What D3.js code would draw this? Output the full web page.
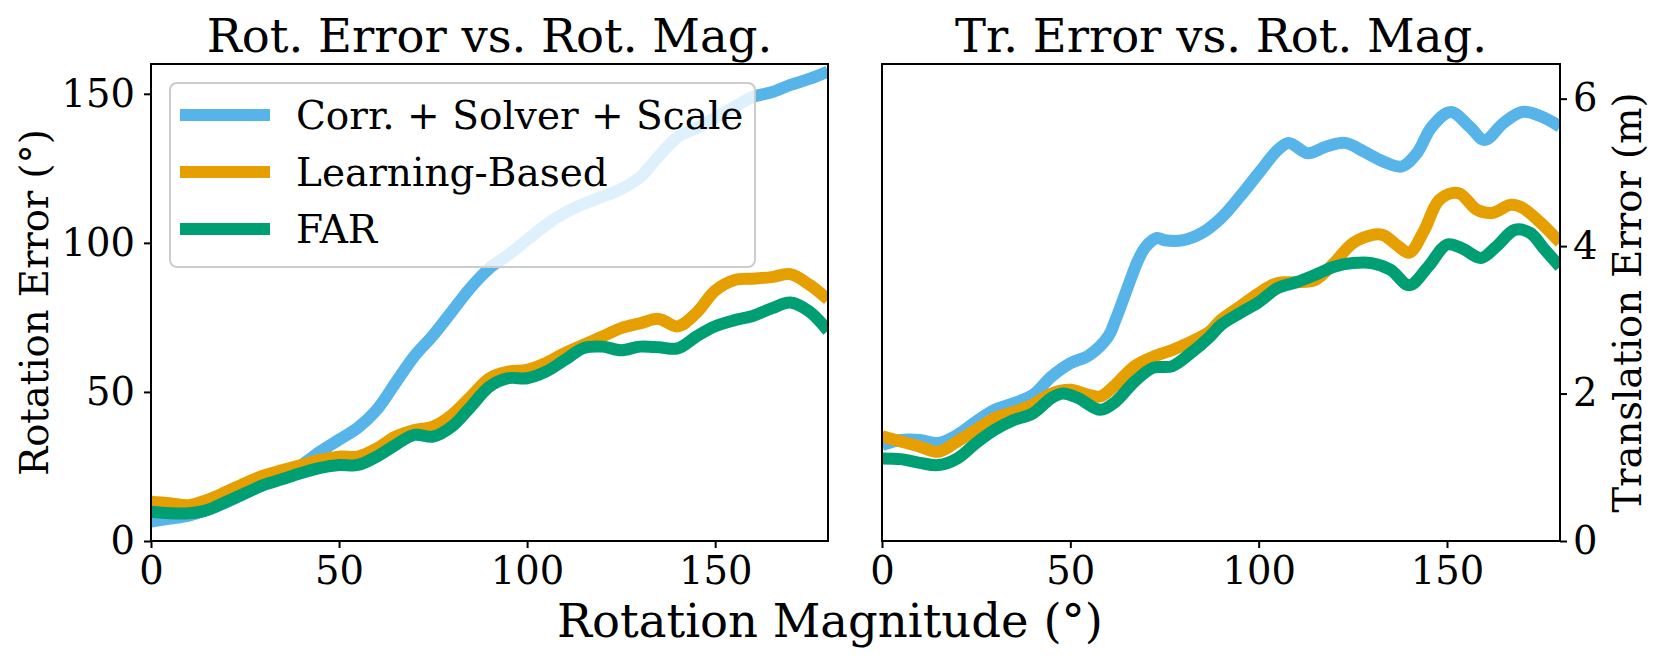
<!DOCTYPE html>
<html>
<head>
<meta charset="utf-8">
<script src="https://d3js.org/d3.v7.min.js"></script>
<title>Rotation error and translation error</title>
<style>
  body { margin: 0; background: #fff; }
  text { font-family: "DejaVu Serif", serif; fill: #000; }
</style>
</head>
<body>
<svg width="1662" height="662"></svg>
<script>
// rotation magnitude samples, left panel (degrees)
const leftX = d3.range(0, 181, 5);
const leftCorr  = [6.5, 7.5, 8.5, 10.5, 13, 16, 19, 22, 25.5, 30, 34, 38, 44, 53, 62, 69, 77, 85, 91.5, 96,
                   101, 106, 110, 113, 115.5, 118, 122, 129, 135.5, 138.5, 142, 145.5, 149, 150.5, 153, 155, 157.5];
const leftLearn = [13.2, 12.7, 12, 13.8, 16.5, 19.4, 22, 23.8, 25.5, 27.2, 28.3, 28.3, 31, 35, 37.2, 38.4, 42.3, 48.4, 54.6, 56.8,
                   57.4, 59.7, 63, 65.8, 68.6, 71.4, 73, 74.5, 72, 76.5, 84, 87.5, 88, 88.5, 89.5, 86, 81];
const leftFar   = [9.8, 9.3, 9.3, 10.4, 13.2, 16, 18.8, 20.8, 22.8, 24.5, 25.5, 25.5, 28.3, 32.2, 35.6, 35, 38.4, 45, 51.8, 54.6,
                   54.6, 56.8, 60.7, 64.7, 65.2, 64, 65.2, 65, 64.6, 68.6, 72, 74, 75.5, 78, 80, 77, 70.5];

// right panel (translation error, m)
const rightCorrX = [0, 5, 10, 15, 20, 25, 30, 35, 40, 45, 50, 55, 60, 62, 65, 68, 70, 73, 75, 80, 85, 90, 95, 100, 105,
                    108, 113, 118, 123, 128, 133, 138, 142, 146, 151, 156, 160, 165, 170, 175, 180];
const rightCorr  = [1.30, 1.37, 1.37, 1.33, 1.44, 1.62, 1.78, 1.87, 1.98, 2.23, 2.41, 2.52, 2.77, 3.0, 3.41, 3.81, 3.99, 4.11,
                    4.08, 4.08, 4.18, 4.38, 4.67, 4.99, 5.30, 5.40, 5.26, 5.35, 5.40, 5.28, 5.15, 5.08, 5.26, 5.62, 5.82,
                    5.62, 5.44, 5.67, 5.82, 5.76, 5.62];
const rightLearnX = [0, 5, 10, 15, 20, 25, 30, 35, 40, 45, 50, 55, 58, 62, 67, 72, 77, 82, 87, 90, 95, 100, 105, 110, 115,
                     120, 125, 130, 133, 137, 140, 144, 148, 153, 158, 162, 167, 170, 175, 180];
const rightLearn  = [1.42, 1.35, 1.28, 1.21, 1.35, 1.51, 1.67, 1.75, 1.85, 2.0, 2.05, 1.98, 1.96, 2.12, 2.37, 2.5, 2.59, 2.7,
                     2.84, 3.0, 3.18, 3.36, 3.5, 3.51, 3.54, 3.77, 4.04, 4.15, 4.15, 4.0, 3.91, 4.22, 4.63, 4.72, 4.49, 4.45,
                     4.56, 4.52, 4.31, 4.05];
const rightFarX = [0, 5, 10, 15, 20, 25, 30, 35, 40, 45, 48, 52, 58, 62, 67, 72, 77, 82, 87, 90, 95, 100, 105, 110, 115,
                   120, 125, 130, 135, 140, 145, 150, 154, 159, 163, 168, 172, 176, 180];
const rightFar  = [1.12, 1.11, 1.06, 1.03, 1.12, 1.33, 1.51, 1.64, 1.73, 1.94, 2.0, 1.94, 1.78, 1.89, 2.16, 2.35, 2.37, 2.55,
                   2.77, 2.93, 3.09, 3.24, 3.43, 3.51, 3.61, 3.72, 3.77, 3.77, 3.68, 3.47, 3.72, 4.02, 3.97, 3.84, 3.99, 4.22,
                   4.18, 3.95, 3.72];

const methods = ['Corr. + Solver + Scale', 'Learning-Based', 'FAR'];
const colors = ['#56B4E9', '#E69F00', '#009E73'];
const xTicks = [0, 50, 100, 150];
const leftTicks = [0, 50, 100, 150];
const rightTicks = [0, 2, 4, 6];

const svg = d3.select('svg');
const plotTop = 64, plotBottom = 541;
const lineW = 12;

const panels = [
  { x0: 151, x1: 828, ymax: 160, ticks: leftTicks, side: 'left',
    title: 'Rot. Error vs. Rot. Mag.', ylabel: 'Rotation Error (°)', labelX: 48,
    series: [[leftX, leftCorr], [leftX, leftLearn], [leftX, leftFar]] },
  { x0: 882, x1: 1560, ymax: 6.47, ticks: rightTicks, side: 'right',
    title: 'Tr. Error vs. Rot. Mag.', ylabel: 'Translation Error (m)', labelX: 1641,
    series: [[rightCorrX, rightCorr], [rightLearnX, rightLearn], [rightFarX, rightFar]] }
];

panels.forEach((p, pi) => {
  const x = d3.scaleLinear().domain([0, 180]).range([p.x0, p.x1]);
  const y = d3.scaleLinear().domain([0, p.ymax]).range([plotBottom, plotTop]);

  svg.append('clipPath').attr('id', 'clip' + pi)
    .append('rect')
      .attr('x', p.x0).attr('y', plotTop)
      .attr('width', p.x1 - p.x0).attr('height', plotBottom - plotTop);

  const line = d3.line()
      .x(d => x(d[0]))
      .y(d => y(d[1]))
      .curve(d3.curveCatmullRom.alpha(0.5));

  const g = svg.append('g').attr('clip-path', `url(#clip${pi})`);
  p.series.forEach((s, i) => {
    const pts = s[0].map((v, j) => [v, s[1][j]]);
    g.append('path')
      .attr('d', line(pts))
      .attr('fill', 'none')
      .attr('stroke', colors[i])
      .attr('stroke-width', lineW)
      .attr('stroke-linejoin', 'round');
  });

  // x axis
  const xAxisG = svg.append('g')
      .attr('transform', `translate(0, ${plotBottom})`)
      .call(d3.axisBottom(x).tickValues(xTicks).tickSize(7).tickPadding(9).tickFormat(d3.format('d')));
  xAxisG.select('.domain').remove();
  xAxisG.selectAll('line').attr('stroke', '#000').attr('stroke-width', 2);
  xAxisG.selectAll('text').attr('font-size', 38.5).attr('font-family', 'DejaVu Serif');

  // y axis
  const yAxis = p.side === 'left' ? d3.axisLeft(y).tickPadding(9) : d3.axisRight(y).tickPadding(6);
  const yAxisG = svg.append('g')
      .attr('transform', `translate(${p.side === 'left' ? p.x0 : p.x1}, 0)`)
      .call(yAxis.tickValues(p.ticks).tickSize(7).tickFormat(d3.format('d')));
  yAxisG.select('.domain').remove();
  yAxisG.selectAll('line').attr('stroke', '#000').attr('stroke-width', 2);
  yAxisG.selectAll('text').attr('font-size', 38.5).attr('font-family', 'DejaVu Serif');

  // spines
  svg.append('rect')
    .attr('x', p.x0).attr('y', plotTop)
    .attr('width', p.x1 - p.x0).attr('height', plotBottom - plotTop)
    .attr('fill', 'none').attr('stroke', '#000').attr('stroke-width', 2);

  svg.append('text')
    .attr('x', (p.x0 + p.x1) / 2).attr('y', 52)
    .attr('text-anchor', 'middle')
    .attr('font-size', 46.5)
    .text(p.title);

  svg.append('text')
    .attr('transform', `translate(${p.labelX}, ${(plotTop + plotBottom) / 2}) rotate(-90)`)
    .attr('text-anchor', 'middle')
    .attr('font-size', 38.5)
    .text(p.ylabel);

  if (pi === 0) {
    const lg = svg.append('g');
    lg.append('rect')
      .attr('x', 170).attr('y', 83).attr('width', 585).attr('height', 184)
      .attr('rx', 7)
      .attr('fill', '#fff').attr('fill-opacity', 0.8)
      .attr('stroke', '#cccccc').attr('stroke-width', 2);
    methods.forEach((m, i) => {
      const ry = 115 + i * 57;
      lg.append('line')
        .attr('x1', 180).attr('x2', 270).attr('y1', ry).attr('y2', ry)
        .attr('stroke', colors[i]).attr('stroke-width', lineW);
      lg.append('text')
        .attr('x', 296).attr('y', ry).attr('dy', '0.36em')
        .attr('font-size', 39)
        .text(m);
    });
  }
});

svg.append('text')
  .attr('x', 830).attr('y', 637)
  .attr('text-anchor', 'middle')
  .attr('font-size', 46.5)
  .text('Rotation Magnitude (°)');
</script>
</body>
</html>
